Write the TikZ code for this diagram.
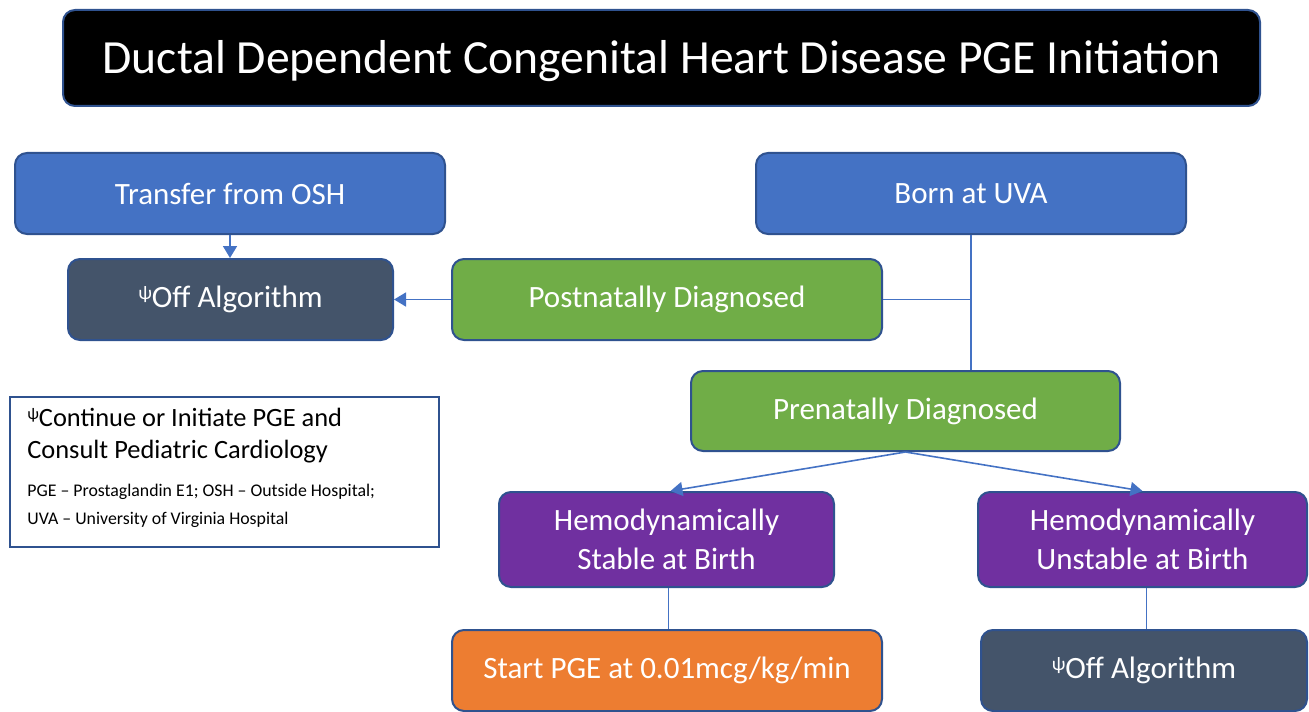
\documentclass[tikz,border=0pt]{standalone}
\usepackage{fontspec}
\setmainfont{Carlito}
\usetikzlibrary{arrows.meta}
\definecolor{cblue}{HTML}{4472C4}
\definecolor{cborder}{HTML}{2F528F}
\definecolor{cslate}{HTML}{44546A}
\definecolor{cgreen}{HTML}{70AD47}
\definecolor{cpurple}{HTML}{7030A0}
\definecolor{corange}{HTML}{ED7D31}
\newcommand{\psisup}{\raisebox{0.55ex}{\scalebox{0.62}{ψ}}}
\tikzset{
  box/.style={draw=cborder, line width=1pt, rounded corners=6pt, text=white,
    font=\fontsize{15.5}{19.5}\selectfont, align=center, inner sep=0pt},
  conn/.style={draw=cblue, line width=0.8pt},
  arr/.style={conn, -{Triangle[length=6pt,width=7pt]}},
}
\begin{document}
\begin{tikzpicture}[x=0.5pt,y=-0.5pt]
\useasboundingbox (0,0) rectangle (1309,711);
\node[box, fill=black, minimum width=598.5pt, minimum height=48pt] (title) at (661.5,58) {};
\node[text=white, inner sep=0pt, font=\fontsize{23.8}{28}\selectfont] (titletxt) at (661.5,61)
  {Ductal Dependent Congenital Heart Disease PGE Initiation};
\node[box, fill=cblue, minimum width=215pt, minimum height=40.5pt] (osh) at (230,193.5) {Transfer from OSH};
\node[box, fill=cslate, minimum width=162.5pt, minimum height=40.5pt] (offl) at (230.5,299.5) {\psisup Off Algorithm};
\node[box, fill=cgreen, minimum width=215pt, minimum height=40.5pt] (post) at (667,299.5) {Postnatally Diagnosed};
\node[box, fill=cblue, minimum width=215pt, minimum height=40.5pt] (uva) at (971,193.5) {Born at UVA};
\node[box, fill=cgreen, minimum width=214.5pt, minimum height=40pt] (pre) at (905.5,411) {Prenatally Diagnosed};
\node[box, fill=cpurple, minimum width=167.5pt, minimum height=47.5pt] (stable) at (666.5,539.5) {Hemodynamically\\Stable at Birth};
\node[box, fill=cpurple, minimum width=164.5pt, minimum height=47.5pt] (unstable) at (1142.5,539.5) {Hemodynamically\\Unstable at Birth};
\node[box, fill=corange, minimum width=215pt, minimum height=40.5pt] (start) at (667,670.5) {Start PGE at 0.01mcg/kg/min};
\node[box, fill=cslate, minimum width=163pt, minimum height=40.5pt] (offr) at (1144,670.5) {\psisup Off Algorithm};
\node[draw=cborder, line width=1pt, fill=white, minimum width=214.5pt, minimum height=75pt,
  inner sep=0pt] (legend) at (224.5,472) {};
\node[anchor=north west, align=left, inner sep=0pt, font=\fontsize{13.2}{16}\selectfont] (legtxt)
  at ([xshift=9pt,yshift=-6pt]legend.north west)
  {\psisup Continue or Initiate PGE and\\Consult Pediatric Cardiology};
\node[anchor=north west, align=left, inner sep=0pt, font=\fontsize{8.9}{14}\selectfont] (legsmall)
  at ([yshift=-10pt]legtxt.south west)
  {PGE -- Prostaglandin E1; OSH -- Outside Hospital;\\UVA -- University of Virginia Hospital};
% connectors
\draw[arr] (osh.south) -- (offl.north -| osh.south);
\coordinate (j) at (uva.south |- post.east);
\draw[conn] (uva.south) -- (pre.north -| uva.south);
\draw[conn] (post.east) -- (j);
\draw[arr] (post.west) -- (offl.east);
\draw[arr] (pre.south) -- ([xshift=2pt]stable.north);
\draw[arr] (pre.south) -- (unstable.north);
\draw[conn] ([xshift=1pt]stable.south) -- ([xshift=1pt]stable.south |- start.north);
\draw[conn] ([xshift=2pt]unstable.south) -- ([xshift=2pt]unstable.south |- offr.north);
\end{tikzpicture}
\end{document}
